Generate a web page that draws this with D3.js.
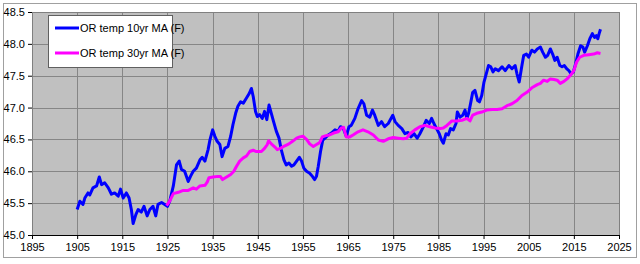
<!DOCTYPE html>
<html>
<head>
<meta charset="utf-8">
<script src="https://cdn.jsdelivr.net/npm/d3@7"></script>
<style>
  body { margin: 0; background: #fff; }
  text { font-family: Arial, "Liberation Sans", sans-serif; font-size: 11px; fill: #000; }
</style>
</head>
<body>
<div id="chart"></div>
<script>
// series labels
const seriesNames = ['OR temp 10yr MA (F)', 'OR temp 30yr MA (F)'];

// 10yr moving average (year, deg F)
const ma10Years = [1905.0,1905.6,1906.3,1906.7,1907.4,1907.8,1908.5,1909.3,1909.9,1910.4,1911.1,1911.9,1912.6,1913.3,1914.1,1914.6,1915.2,1915.9,1916.5,1917.0,1917.4,1918.0,1918.5,1919.2,1919.8,1920.5,1921.1,1921.8,1922.4,1922.9,1923.7,1924.4,1925.0,1925.5,1926.3,1927.0,1927.6,1928.1,1928.8,1929.6,1930.1,1930.7,1931.4,1932.2,1932.7,1933.3,1934.0,1934.4,1935.0,1935.5,1936.0,1936.6,1937.1,1937.7,1938.4,1939.0,1939.5,1940.1,1940.6,1941.2,1941.8,1942.5,1943.1,1943.6,1944.0,1944.5,1944.9,1945.4,1946.0,1946.5,1947.0,1947.5,1948.0,1948.5,1949.1,1949.7,1950.2,1950.8,1951.3,1951.9,1952.5,1953.0,1953.6,1954.2,1954.7,1955.2,1955.8,1956.5,1957.1,1957.6,1958.0,1958.4,1958.9,1959.4,1959.9,1960.6,1961.3,1962.1,1962.8,1963.3,1963.9,1964.6,1965.2,1965.7,1966.5,1967.2,1968.0,1968.5,1969.1,1969.8,1970.4,1970.9,1971.7,1972.4,1973.1,1973.9,1974.9,1975.4,1976.1,1976.9,1977.6,1978.3,1978.9,1979.6,1980.3,1980.9,1981.7,1982.3,1983.0,1983.5,1984.0,1984.6,1985.2,1985.7,1986.1,1986.7,1987.2,1987.7,1988.3,1988.9,1989.2,1989.8,1990.4,1990.9,1991.3,1991.7,1992.2,1992.6,1993.1,1993.7,1994.1,1994.6,1995.1,1995.6,1996.1,1996.6,1997.1,1997.6,1998.3,1999.1,1999.8,2000.6,2001.3,2002.0,2002.4,2002.9,2003.5,2003.9,2004.5,2005.0,2005.7,2006.3,2006.9,2007.6,2008.1,2008.7,2009.2,2009.8,2010.3,2010.8,2011.3,2011.9,2012.4,2012.9,2013.4,2013.9,2014.4,2014.9,2015.4,2015.9,2016.5,2017.0,2017.4,2018.0,2018.6,2019.1,2019.6,2020.0,2020.3,2020.6,2020.9];
const ma10Temps = [45.40,45.53,45.48,45.58,45.66,45.63,45.74,45.77,45.91,45.79,45.82,45.74,45.64,45.66,45.61,45.72,45.58,45.66,45.58,45.40,45.18,45.32,45.40,45.36,45.45,45.30,45.40,45.45,45.30,45.48,45.51,45.48,45.45,45.53,45.77,46.10,46.16,46.03,46.00,45.84,45.92,46.00,46.05,46.18,46.22,46.16,46.34,46.49,46.65,46.55,46.47,46.42,46.23,46.36,46.39,46.55,46.73,46.91,47.02,47.09,47.07,47.15,47.22,47.30,47.17,46.94,46.86,46.89,46.83,46.94,46.81,47.04,46.91,46.78,46.63,46.52,46.34,46.18,46.10,46.13,46.08,46.10,46.16,46.22,46.16,46.05,46.00,45.97,45.92,45.87,45.92,46.08,46.31,46.49,46.52,46.57,46.60,46.65,46.63,46.70,46.68,46.55,46.70,46.72,46.83,46.98,47.11,47.06,46.88,46.85,46.96,46.88,46.72,46.78,46.70,46.75,46.88,46.78,46.72,46.67,46.59,46.61,46.54,46.59,46.52,46.59,46.70,46.80,46.75,46.83,46.75,46.67,46.59,46.49,46.44,46.59,46.57,46.67,46.65,46.75,46.93,46.85,46.88,46.96,46.83,46.91,47.09,47.24,47.27,47.11,47.09,47.19,47.40,47.53,47.66,47.64,47.56,47.61,47.58,47.64,47.58,47.66,47.61,47.66,47.53,47.40,47.66,47.82,47.84,47.79,47.90,47.87,47.92,47.95,47.87,47.79,47.82,47.92,47.84,47.74,47.79,47.66,47.64,47.66,47.61,47.58,47.53,47.56,47.69,47.84,47.97,47.95,47.87,47.97,48.09,48.16,48.10,48.13,48.08,48.16,48.23];

// 30yr moving average (year, deg F)
const ma30Years = [1924.8,1925.5,1926.3,1927.4,1928.5,1929.6,1930.7,1931.4,1932.2,1933.3,1933.8,1934.2,1935.1,1936.2,1936.7,1937.2,1938.1,1939.0,1939.7,1940.3,1941.0,1941.8,1942.5,1943.2,1944.0,1944.7,1945.8,1946.5,1947.1,1947.4,1948.0,1948.8,1949.3,1950.0,1951.0,1951.9,1952.7,1953.6,1954.3,1955.0,1955.8,1956.5,1957.3,1958.0,1958.7,1959.3,1960.1,1960.9,1961.8,1962.8,1963.5,1964.0,1964.6,1965.4,1966.1,1967.2,1968.3,1969.4,1970.6,1971.7,1972.8,1973.9,1975.0,1976.1,1977.2,1978.0,1978.7,1979.8,1980.9,1982.0,1983.1,1984.3,1985.4,1986.1,1986.9,1988.0,1989.1,1990.2,1991.3,1992.0,1992.6,1993.5,1994.6,1995.7,1996.9,1998.0,1999.1,2000.2,2001.3,2002.4,2003.5,2004.6,2005.7,2006.9,2007.6,2008.3,2009.1,2009.8,2010.6,2011.3,2012.0,2012.8,2013.5,2014.3,2015.0,2015.6,2016.3,2017.2,2018.3,2019.4,2020.2,2020.9];
const ma30Temps = [45.46,45.53,45.65,45.67,45.70,45.70,45.74,45.72,45.77,45.78,45.83,45.90,45.91,45.92,45.92,45.87,45.91,45.95,46.00,46.08,46.16,46.21,46.24,46.31,46.33,46.31,46.31,46.36,46.42,46.48,46.43,46.38,46.34,46.36,46.40,46.43,46.47,46.52,46.54,46.55,46.50,46.43,46.39,46.42,46.45,46.54,46.56,46.57,46.60,46.62,46.68,46.69,46.54,46.54,46.57,46.62,46.65,46.62,46.57,46.49,46.47,46.51,46.53,46.52,46.51,46.52,46.59,46.65,46.70,46.72,46.70,46.68,46.67,46.68,46.72,46.79,46.79,46.80,46.83,46.79,46.88,46.91,46.93,46.96,46.97,46.97,46.98,47.03,47.06,47.11,47.19,47.24,47.31,47.36,47.38,47.43,47.41,47.45,47.44,47.43,47.38,47.41,47.45,47.51,47.58,47.71,47.79,47.82,47.83,47.84,47.86,47.85];

// axis ticks
const xTicks = [1895,1905,1915,1925,1935,1945,1955,1965,1975,1985,1995,2005,2015,2025];
const yTicks = [45.0,45.5,46.0,46.5,47.0,47.5,48.0,48.5];

const W = 640, H = 264;
const plot = { left: 32, top: 12, right: 619, bottom: 235 };

const svg = d3.select('#chart').append('svg')
    .attr('width', W)
    .attr('height', H);

// outer frame
svg.append('rect')
    .attr('x', 3.5).attr('y', 3.5)
    .attr('width', 633).attr('height', 254)
    .attr('fill', '#fff')
    .attr('stroke', '#a0a0a0');

const x = d3.scaleLinear()
    .domain([1895, 2025])
    .range([plot.left, plot.right]);

const y = d3.scaleLinear()
    .domain([45, 48.5])
    .range([plot.bottom, plot.top]);

// plot background
svg.append('rect')
    .attr('x', plot.left).attr('y', plot.top)
    .attr('width', plot.right - plot.left)
    .attr('height', plot.bottom - plot.top)
    .attr('fill', '#c0c0c0');

// gridlines
svg.append('g').selectAll('line')
    .data(yTicks.slice(1))
    .enter().append('line')
    .attr('x1', plot.left).attr('x2', plot.right)
    .attr('y1', d => Math.round(y(d)) + 0.5)
    .attr('y2', d => Math.round(y(d)) + 0.5)
    .attr('stroke', '#868686');

svg.append('g').selectAll('line')
    .data(xTicks.slice(1))
    .enter().append('line')
    .attr('y1', plot.top).attr('y2', plot.bottom)
    .attr('x1', d => Math.round(x(d)) + 0.5)
    .attr('x2', d => Math.round(x(d)) + 0.5)
    .attr('stroke', '#868686');

// axes
const xAxis = d3.axisBottom(x).tickValues(xTicks).tickFormat(d3.format('d')).tickSize(4).tickPadding(4);
const yAxis = d3.axisLeft(y).tickValues(yTicks).tickFormat(d3.format('.1f')).tickSize(4).tickPadding(3);

const gx = svg.append('g')
    .attr('transform', `translate(0,${plot.bottom})`)
    .call(xAxis);
const gy = svg.append('g')
    .attr('transform', `translate(${plot.left},0)`)
    .call(yAxis);

[gx, gy].forEach(g => {
  g.select('.domain').attr('stroke', '#000');
  g.selectAll('.tick line').attr('stroke', '#000');
  g.selectAll('text').style('font-size', '11px').attr('fill', '#000');
});
gx.select('.domain').attr('d', `M${plot.left},0.5H${plot.right}`);
gy.select('.domain').attr('stroke', '#808080').attr('d', `M0.5,${plot.top}V${plot.bottom}`);

// right + top border of plot
svg.append('path')
    .attr('d', `M${plot.left},${plot.top + 0.5}H${plot.right + 0.5}V${plot.bottom}`)
    .attr('fill', 'none')
    .attr('stroke', '#808080');

// lines
const line = d3.line()
    .x(d => x(d[0]))
    .y(d => y(d[1]));

svg.append('path')
    .datum(ma10Years.map((yr, i) => [yr, ma10Temps[i]]))
    .attr('d', line)
    .attr('fill', 'none')
    .attr('stroke', '#0000ff')
    .attr('stroke-width', 3)
    .attr('stroke-linejoin', 'round');

svg.append('path')
    .datum(ma30Years.map((yr, i) => [yr, ma30Temps[i]]))
    .attr('d', line)
    .attr('fill', 'none')
    .attr('stroke', '#ff00ff')
    .attr('stroke-width', 3)
    .attr('stroke-linejoin', 'round');

// legend
const legend = svg.append('g').attr('transform', 'translate(48,15)');
legend.append('rect')
    .attr('x', 0.5).attr('y', 0.5)
    .attr('width', 124).attr('height', 52)
    .attr('fill', '#fff')
    .attr('stroke', '#606060');

const colors = ['#0000ff', '#ff00ff'];
seriesNames.forEach((name, i) => {
  const ly = 13 + i * 25;
  legend.append('line')
      .attr('x1', 7).attr('x2', 31)
      .attr('y1', ly).attr('y2', ly)
      .attr('stroke', colors[i])
      .attr('stroke-width', 3);
  legend.append('text')
      .attr('x', 32).attr('y', ly + 4)
      .style('font-size', '11px')
      .text(name);
});
</script>
</body>
</html>
